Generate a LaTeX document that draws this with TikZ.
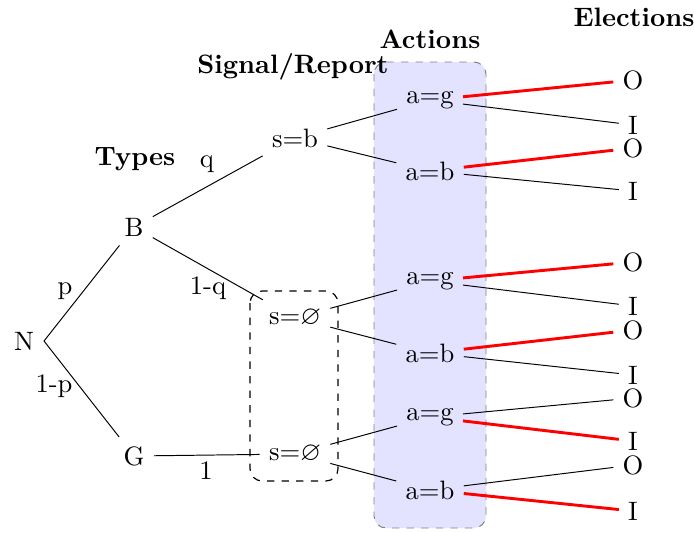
\documentclass[11pt,tikz,border=0pt]{standalone}
\usepackage{amssymb}
\usetikzlibrary{positioning}
\tikzset{every picture/.style={line width=0.4pt}}

\begin{document}
\begin{tikzpicture}[x=0.4115pt,y=0.4115pt,yscale=-1,xscale=1,
  title/.style={font=\bfseries},
  pick/.style={red,line width=1.2pt}]
\useasboundingbox (0,0) rectangle (694,532);

%Shape: Rounded Rect [id:actions]
\draw [gray, dashed, fill=blue!11, rounded corners=5pt] (374,62) rectangle (486,528);
%Shape: Rounded Rect [id:infoset]
\draw [dashed, line width=0.5pt, rounded corners=5pt] (250,291) rectangle (338,481);

% Titles
\node [title] (types) at (135,159) {Types};
\node [title] (signal) at (293,67) {Signal/Report};
\node [title] (actions) at (430,39) {Actions};
\node [title] (elections) at (634,17) {Elections};

% Tree nodes
\node (N) at (24,341) {N};
\coordinate (Nfork) at (44,341);
\node (B) at (134,227) {B};
\node (G) at (134,456) {G};
\node (sb) at (295,138) {s=b};
\node (s1) at (295,318) {s=$\varnothing$};
\node (s2) at (295,454) {s=$\varnothing$};
\node (a1) at (430,100) {a=g};
\node (a2) at (430,171) {a=b};
\node (a3) at (430,281) {a=g};
\node (a4) at (430,353) {a=b};
\node (a5) at (430,417) {a=g};
\node (a6) at (430,490) {a=b};
\node (O1) at (633,80) {O};
\node (I1) at (633,125) {I};
\node (O2) at (633,148) {O};
\node (I2) at (633,191) {I};
\node (O3) at (633,262) {O};
\node (I3) at (633,306) {I};
\node (O4) at (633,330) {O};
\node (I4) at (633,375) {I};
\node (O5) at (633,398) {O};
\node (I5) at (633,441) {I};
\node (O6) at (633,465) {O};
\node (I6) at (633,511) {I};

% Edge labels
\node (lp) at (65,291) {p};
\node (l1p) at (54,386) {1-p};
\node (lq) at (207,164) {q};
\node (l1q) at (208,288) {1-q};
\node (l1) at (206,471) {1};

%Straight Lines
\draw (Nfork) -- (B);
\draw (Nfork) -- (G);
\draw (B) -- (sb);
\draw (B) -- (s1);
\draw (G) -- (s2);
\draw (sb) -- (a1);
\draw (sb) -- (a2);
\draw (s1) -- (a3);
\draw (s1) -- (a4);
\draw (s2) -- (a5);
\draw (s2) -- (a6);

%Straight Lines (elections)
\draw [pick] (a1) -- (O1);
\draw (a1) -- (I1);
\draw [pick] (a2) -- (O2);
\draw (a2) -- (I2);
\draw [pick] (a3) -- (O3);
\draw (a3) -- (I3);
\draw [pick] (a4) -- (O4);
\draw (a4) -- (I4);
\draw (a5) -- (O5);
\draw [pick] (a5) -- (I5);
\draw (a6) -- (O6);
\draw [pick] (a6) -- (I6);

\end{tikzpicture}
\end{document}
